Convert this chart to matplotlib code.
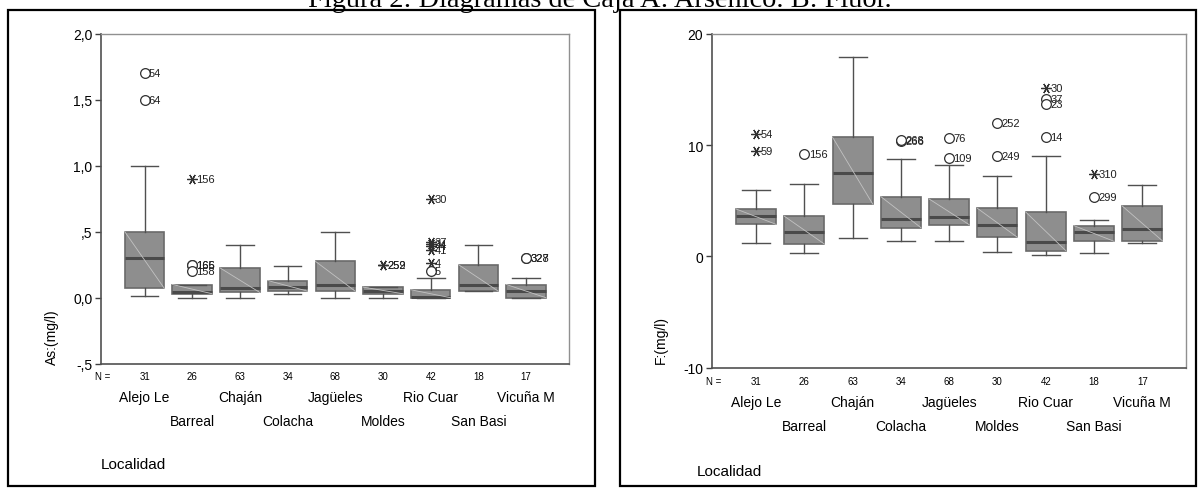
import numpy as np
import matplotlib
matplotlib.use("Agg")
import matplotlib.pyplot as plt
from matplotlib.patches import Rectangle
from matplotlib.transforms import blended_transform_factory

# ── Data ──────────────────────────────────────────────────────────────────────

LOCALIDADES = ["Alejo Le", "Barreal", "Chaján", "Colacha", "Jagüeles",
               "Moldes", "Rio Cuar", "San Basi", "Vicuña M"]
N_COUNTS = [31, 26, 63, 34, 68, 30, 42, 18, 17]

# Arsénico (mg/l): whisker low, q1, median, q3, whisker high
AS_WLO = [0.01, 0.00, 0.00, 0.03, 0.00, 0.00, 0.00, 0.05, 0.00]
AS_Q1  = [0.07, 0.03, 0.04, 0.05, 0.05, 0.03, 0.00, 0.05, 0.00]
AS_MED = [0.30, 0.04, 0.07, 0.08, 0.10, 0.05, 0.005, 0.10, 0.05]
AS_Q3  = [0.50, 0.10, 0.225, 0.13, 0.275, 0.08, 0.06, 0.25, 0.10]
AS_WHI = [1.00, 0.10, 0.40, 0.24, 0.50, 0.08, 0.15, 0.40, 0.15]

# outliers: box index, value, case label, kind (o = circle, * = extreme)
AS_OUT_BOX = [0, 0, 1, 1, 1, 1, 5, 5, 6, 6, 6, 6, 6, 6, 6, 8, 8]
AS_OUT_VAL = [1.70, 1.50, 0.90, 0.25, 0.248, 0.20, 0.25, 0.25,
              0.75, 0.42, 0.405, 0.395, 0.36, 0.26, 0.20, 0.30, 0.30]
AS_OUT_LAB = ["54", "64", "156", "166", "165", "158", "252", "259",
              "30", "37", "34", "44", "41", "4", "5", "327", "328"]
AS_OUT_KIND = ["o", "o", "*", "o", "o", "o", "*", "*",
               "*", "*", "*", "*", "*", "*", "o", "o", "o"]

# Fluor (mg/l)
F_WLO = [1.20, 0.27, 1.64, 1.40, 1.35, 0.42, 0.12, 0.27, 1.20]
F_Q1  = [2.87, 1.10, 4.70, 2.57, 2.84, 1.70, 0.51, 1.35, 1.40]
F_MED = [3.65, 2.21, 7.48, 3.32, 3.50, 2.84, 1.32, 2.16, 2.48]
F_Q3  = [4.25, 3.60, 10.69, 5.36, 5.15, 4.31, 3.98, 2.75, 4.52]
F_WHI = [6.00, 6.52, 17.93, 8.71, 8.18, 7.19, 9.04, 3.26, 6.43]

F_OUT_BOX = [0, 0, 1, 3, 3, 4, 4, 5, 5, 6, 6, 6, 6, 7, 7]
F_OUT_VAL = [10.96, 9.49, 9.22, 10.40, 10.45, 10.63, 8.83, 11.95, 9.01,
             15.10, 14.13, 13.71, 10.75, 7.37, 5.36]
F_OUT_LAB = ["54", "59", "156", "266", "268", "76", "109", "252", "249",
             "30", "37", "23", "14", "310", "299"]
F_OUT_KIND = ["*", "*", "o", "o", "o", "o", "o", "o", "o",
              "*", "o", "o", "o", "*", "o"]

AS_TICKS = [-0.5, 0.0, 0.5, 1.0, 1.5, 2.0]
AS_TICKLABELS = ["-,5", "0,0", ",5", "1,0", "1,5", "2,0"]
F_TICKS = [-10, 0, 10, 20]
F_TICKLABELS = ["-10", "0", "10", "20"]

TITLE = "Figura 2: Diagramas de Caja A: Arsénico. B: Fluor."

# ── Style ─────────────────────────────────────────────────────────────────────

W, H = 1200, 489
BOX_FACE = "#8e8e8e"
BOX_EDGE = "#6a6a6a"
MED_COLOR = "#4a4a4a"
WHISK = "#505050"
DIAG = "#c2c2c2"
BOX_W = 0.83
ASTERISK = (6, 2, 90)

plt.rcParams["font.family"] = ["Liberation Sans", "DejaVu Sans"]


def fx(px):
    return px / W


def fy(py):
    return 1 - py / H


def draw_panel(fig, ax, wlo, q1, med, q3, whi, out_box, out_val, out_lab, out_kind,
               ticks, ticklabels, ylim, ylabel, rows_py, ylabel_px, label_dx):
    pos = np.arange(1, len(LOCALIDADES) + 1)
    stats = [dict(whislo=a, q1=b, med=c, q3=d, whishi=e, fliers=[])
             for a, b, c, d, e in zip(wlo, q1, med, q3, whi)]
    ax.bxp(stats, positions=pos, widths=BOX_W, patch_artist=True, showfliers=False,
           boxprops=dict(facecolor=BOX_FACE, edgecolor=BOX_EDGE, linewidth=1.2),
           medianprops=dict(color=MED_COLOR, linewidth=2.2),
           whiskerprops=dict(color=WHISK, linewidth=1.0),
           capprops=dict(color=WHISK, linewidth=1.0), capwidths=BOX_W * 0.7)
    # thin diagonal artefact inside each box
    for p, lo, hi in zip(pos, q1, q3):
        ax.plot([p - BOX_W / 2, p + BOX_W / 2], [hi, lo], color=DIAG,
                linewidth=0.6, zorder=3)

    for b, v, lab, k in zip(out_box, out_val, out_lab, out_kind):
        x = pos[b]
        if k == "o":
            ax.plot(x, v, marker="o", markersize=7, markerfacecolor="white",
                    markeredgecolor="#303030", markeredgewidth=0.9, zorder=5)
        else:
            ax.plot(x, v, marker=ASTERISK, markersize=7.5, color="#303030",
                    markeredgewidth=0.9, zorder=5)
        ax.text(x + label_dx, v, lab, fontsize=8, va="center", ha="left",
                color="#202020", zorder=6)

    ax.set_xlim(0.08, 9.9)
    ax.set_ylim(*ylim)
    ax.set_yticks(ticks)
    ax.set_yticklabels(ticklabels, fontsize=10)
    ax.set_xticks([])
    ax.tick_params(axis="y", direction="out", length=4, width=1, color="#404040", pad=2)
    for side in ["left", "bottom"]:
        ax.spines[side].set_color("#505050")
        ax.spines[side].set_linewidth(1.2)
    for side in ["top", "right"]:
        ax.spines[side].set_color("#909090")
        ax.spines[side].set_linewidth(1.0)

    tr = blended_transform_factory(ax.transData, fig.transFigure)
    n_py, r1_py, r2_py = rows_py
    ax.text(0.12, fy(n_py), "N =", transform=tr, fontsize=7, ha="center", va="center")
    for i, (p, n, name) in enumerate(zip(pos, N_COUNTS, LOCALIDADES)):
        ax.text(p, fy(n_py), str(n), transform=tr, fontsize=7, ha="center", va="center")
        ry = r1_py if i % 2 == 0 else r2_py
        ax.text(p, fy(ry), name, transform=tr, fontsize=10, ha="center", va="center")

    lx, ly = ylabel_px
    fig.text(fx(lx), fy(ly), ylabel, rotation=90, rotation_mode="anchor",
             ha="left", va="center", fontsize=10)


fig = plt.figure(figsize=(12, 4.89), dpi=100)

ax1 = fig.add_axes([fx(100.7), fy(364.7), fx(569 - 100.7), (364.7 - 34.7) / H])
draw_panel(fig, ax1, AS_WLO, AS_Q1, AS_MED, AS_Q3, AS_WHI,
           AS_OUT_BOX, AS_OUT_VAL, AS_OUT_LAB, AS_OUT_KIND,
           AS_TICKS, AS_TICKLABELS, (-0.5, 2.0), "As:(mg/l)",
           (377, 398, 422), (52, 365), 0.09)

ax2 = fig.add_axes([fx(711.7), fy(368.6), fx(1185.7 - 711.7), (368.6 - 34.7) / H])
draw_panel(fig, ax2, F_WLO, F_Q1, F_MED, F_Q3, F_WHI,
           F_OUT_BOX, F_OUT_VAL, F_OUT_LAB, F_OUT_KIND,
           F_TICKS, F_TICKLABELS, (-10, 20), "F:(mg/l)",
           (382, 403, 427), (661, 364), 0.09)

fig.text(fx(101), fy(465), "Localidad", fontsize=11, ha="left", va="center")
fig.text(fx(697), fy(472), "Localidad", fontsize=11, ha="left", va="center")

# panel frames
for x0, x1 in [(8, 595), (620, 1196)]:
    fig.patches.append(Rectangle((fx(x0), fy(487)), fx(x1 - x0), (487 - 11) / H,
                                 transform=fig.transFigure, fill=False,
                                 edgecolor="black", linewidth=1.6))

# figure caption, partly cut by the top edge as in the source scan
fig.text(0.5, fy(7), TITLE, fontsize=20.4, ha="center", va="baseline",
         family=["Liberation Serif", "DejaVu Serif"])

fig.savefig("out.png", dpi=100)
